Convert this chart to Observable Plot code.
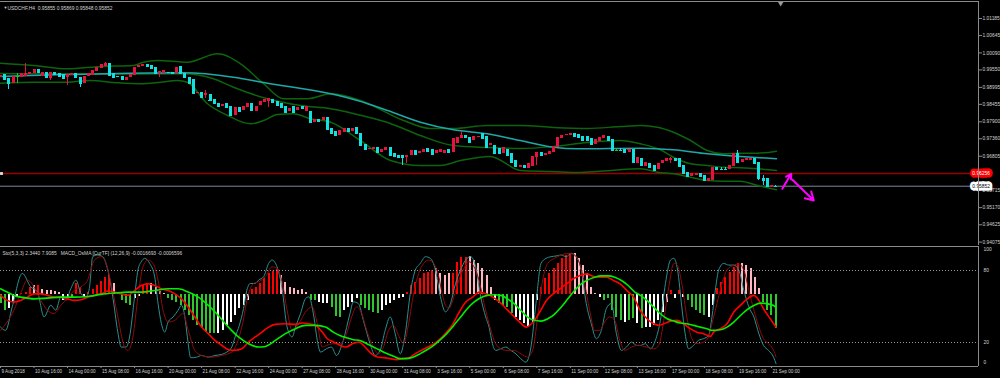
<!DOCTYPE html>
<html><head><meta charset="utf-8">
<script src="https://cdn.jsdelivr.net/npm/d3@7"></script>
<script src="https://cdn.jsdelivr.net/npm/@observablehq/plot@0.6"></script>
<style>
body{margin:0;background:#000;}
#wrap{position:relative;width:1000px;height:378px;background:#000;overflow:hidden;}
#wrap svg{position:absolute;left:0;}
</style></head><body>
<div id="wrap"></div>
<script>
// ---------- DATA ----------
const symbolTitle = "USDCHF,H4  0.95855 0.95869 0.95848 0.95852";
const indTitle = "Sto(5,3,3) 2.3440 7.9085   MACD_OsMA [CurTF] (12,26,9) -0.0016693 -0.0006596";
const openPrices = [
0.99318,0.99395,0.99268,0.99128,0.99340,0.99318,0.99341,0.99395,0.99427,0.99554,
0.99341,0.99458,0.99268,0.99477,0.99446,0.99395,0.99318,0.99372,0.99427,0.99318,
0.99128,0.99350,0.99372,0.99509,0.99586,0.99659,0.99745,0.99427,0.99341,0.99350,
0.99213,0.99299,0.99372,0.99617,0.99659,0.99722,0.99690,0.99636,0.99427,0.99427,
0.99477,0.99477,0.99446,0.99659,0.99446,0.99318,0.99236,0.98791,0.98841,0.98736,
0.98759,0.98600,0.98492,0.98387,0.98473,0.98387,0.98100,0.98364,0.98259,0.98364,
0.98492,0.98237,0.98418,0.98523,0.98555,0.98600,0.98545,0.98473,0.98387,0.98237,
0.98387,0.98259,0.98387,0.98237,0.98237,0.97887,0.97983,0.97941,0.98046,0.97697,
0.97592,0.97464,0.97560,0.97687,0.97601,0.97728,0.97538,0.97178,0.97010,0.97010,
0.97092,0.96933,0.96987,0.97073,0.96902,0.96828,0.96828,0.96755,0.96828,0.96987,
0.96902,0.96933,0.97042,0.97019,0.96883,0.96924,0.96902,0.97010,0.96933,0.97220,
0.97360,0.97455,0.97410,0.97305,0.97391,0.97519,0.97433,0.97146,0.97146,0.97042,
0.96902,0.97010,0.96883,0.96669,0.96456,0.96510,0.96415,0.96479,0.96774,0.96933,
0.96828,0.96860,0.96933,0.97092,0.97360,0.97464,0.97464,0.97538,0.97496,0.97433,
0.97433,0.97379,0.97178,0.97283,0.97360,0.97433,0.97328,0.96990,0.96980,0.97010,
0.96933,0.97010,0.96584,0.96724,0.96479,0.96584,0.96510,0.96374,0.96584,0.96647,
0.96669,0.96743,0.96724,0.96510,0.96278,0.96170,0.96192,0.96266,0.96202,0.96001,
0.96033,0.96456,0.96383,0.96380,0.96374,0.96479,0.96902,0.96615,0.96669,0.96669,
0.96743,0.96615,0.96107,0.96088,0.95820,0.95855];
const closePrices = [
0.99372,0.99236,0.99109,0.99341,0.99340,0.99427,0.99427,0.99468,0.99554,0.99477,
0.99458,0.99299,0.99477,0.99395,0.99341,0.99268,0.99395,0.99427,0.99299,0.99128,
0.99350,0.99427,0.99531,0.99617,0.99722,0.99745,0.99372,0.99318,0.99335,0.99236,
0.99318,0.99395,0.99636,0.99690,0.99722,0.99659,0.99586,0.99427,0.99509,0.99531,
0.99470,0.99427,0.99617,0.99446,0.99299,0.99109,0.98810,0.98841,0.98682,0.98791,
0.98577,0.98473,0.98387,0.98441,0.98364,0.98100,0.98345,0.98237,0.98387,0.98492,
0.98259,0.98387,0.98555,0.98600,0.98631,0.98523,0.98418,0.98364,0.98205,0.98333,
0.98205,0.98364,0.98314,0.98387,0.97887,0.97964,0.97919,0.98046,0.97646,0.97538,
0.97464,0.97623,0.97687,0.97601,0.97678,0.97519,0.97146,0.97010,0.97061,0.97092,
0.96933,0.97029,0.97073,0.96828,0.96797,0.96774,0.96755,0.96828,0.96987,0.96851,
0.96965,0.97010,0.96965,0.96860,0.96987,0.97010,0.96987,0.96933,0.97379,0.97410,
0.97464,0.97391,0.97251,0.97433,0.97433,0.97360,0.97092,0.97220,0.96902,0.96902,
0.97073,0.96828,0.96615,0.96479,0.96510,0.96456,0.96565,0.96797,0.96933,0.96828,
0.96902,0.96965,0.97115,0.97391,0.97464,0.97496,0.97538,0.97433,0.97391,0.97305,
0.97305,0.97178,0.97328,0.97410,0.97464,0.97305,0.96987,0.96990,0.96975,0.96933,
0.97029,0.96615,0.96755,0.96510,0.96615,0.96456,0.96351,0.96584,0.96669,0.96724,
0.96724,0.96669,0.96479,0.96247,0.96170,0.96266,0.96266,0.96160,0.96033,0.96107,
0.96437,0.96374,0.96380,0.96374,0.96510,0.96902,0.96615,0.96692,0.96724,0.96743,
0.96565,0.96088,0.96033,0.95842,0.95865,0.95852];
const wickIdx  = [2,4,6,12,16,19,25,38,49,64,96,97,110,128,147,148,160,172,173,176,181,182,185];
const wickHigh = [null,0.99446,0.99745,null,null,null,0.99795,null,0.98895,null,null,null,0.97601,null,0.97061,0.97042,0.96774,0.96437,0.96437,0.96987,null,0.96197,0.95869];
const wickLow  = [0.98918,0.99109,null,0.99213,0.99054,0.98999,null,0.99318,0.98631,0.98364,0.96510,0.96565,null,0.96510,0.96987,0.96965,0.96584,0.96374,0.96360,null,0.96033,0.95873,0.95848];

const bbUpper = [[0,0.99764],[7.9,0.99690],[16,0.99585],[23.9,0.99659],[31.7,0.99690],[34.1,0.99795],[37.5,0.99849],[44.6,0.99795],[51.8,1.00062],[57.3,0.99745],[62.8,0.99109],[67.5,0.98632],[73.3,0.98632],[78.8,0.98790],[85.9,0.98577],[96.2,0.97941],[102.6,0.97687],[108.1,0.97687],[116.2,0.97782],[124.1,0.97782],[132,0.97719],[140.1,0.97687],[148,0.97750],[152.7,0.97782],[156.8,0.97729],[160.6,0.97569],[164.7,0.97305],[168.7,0.96987],[172.6,0.96883],[176.6,0.96902],[180.7,0.96902],[185.2,0.96965]];
const bbMiddle = [[0,0.99436],[20,0.99420],[43.7,0.99427],[50.8,0.99268],[55.6,0.99000],[63.7,0.98632],[71.6,0.98418],[78.8,0.98314],[84.2,0.98164],[92.4,0.97878],[100.2,0.97464],[108.1,0.97146],[116.2,0.97083],[124.1,0.97051],[132,0.97115],[140.1,0.97242],[148,0.97305],[152.7,0.97200],[157.5,0.97010],[160.6,0.96774],[164.7,0.96565],[168.7,0.96510],[172.6,0.96456],[176.6,0.96437],[180.7,0.96405],[185.2,0.96351]];
const bbLower = [[0,0.99128],[7.9,0.99159],[16,0.99159],[21.5,0.99213],[27.9,0.99140],[33.4,0.99109],[38.2,0.99159],[42.2,0.99213],[44.6,0.99159],[49.4,0.98473],[54.2,0.98100],[59.7,0.97836],[62.8,0.97941],[66.1,0.98132],[69.9,0.98154],[74,0.97995],[78.8,0.97887],[85.9,0.97305],[93.1,0.96669],[100.2,0.96510],[105,0.96510],[109.8,0.96669],[116.9,0.96800],[124.1,0.96351],[131.3,0.96320],[138.4,0.96288],[145.6,0.96351],[152.7,0.96405],[156.8,0.96297],[160.6,0.96247],[164.7,0.96138],[168.7,0.96033],[172.6,0.96011],[176.6,0.96011],[180.7,0.95874],[185.2,0.95737]];
const maLine = [[0,0.99341],[43.7,0.99458],[55.6,0.99318],[63.7,0.99128],[78.8,0.98790],[85.2,0.98577],[92.4,0.98259],[100.2,0.97887],[108.1,0.97646],[116.2,0.97518],[124.1,0.97305],[132,0.97092],[137.7,0.97042],[152.7,0.97061],[160.6,0.97010],[168.7,0.96883],[176.6,0.96797],[185.2,0.96724]];

const redLevel = 0.96256;
const bidLevel = 0.95852;
const arrows = [{x1:186.6,y1:0.95769,x2:188.7,y2:0.96246},{x1:189.0,y1:0.96056,x2:194.1,y2:0.95397}];
const shiftMarkBar = 186.2;
const priceTicks = [1.01185,1.00645,1.00090,0.99550,0.98995,0.98455,0.97900,0.97360,0.96805,0.95715,0.95170,0.94625,0.94075];

const xTickBars = [0,8,16,24,32,40,48,56,64,72,80,88,96,104,112,120,128,136,144,152,160,168,176,184];
const xTickLabels = ["9 Aug 2018","10 Aug 16:00","14 Aug 00:00","15 Aug 08:00","16 Aug 16:00","20 Aug 00:00","21 Aug 08:00","22 Aug 16:00","24 Aug 00:00","27 Aug 08:00","28 Aug 16:00","30 Aug 00:00","31 Aug 08:00","3 Sep 16:00","5 Sep 00:00","6 Sep 08:00","7 Sep 16:00","11 Sep 00:00","12 Sep 08:00","13 Sep 16:00","17 Sep 00:00","18 Sep 08:00","19 Sep 16:00","21 Sep 00:00"];

const stochLevels = [80,20];
const stochMain = [[0,32.9],[1.2,30.1],[2.8,49.7],[5.2,77.6],[7.2,66.4],[8.8,62.2],[10.4,41.3],[12,51.1],[13.2,46.9],[14.4,58],[15.6,55.2],[16.8,65],[18,72],[19.2,60.8],[20.4,58],[21.2,65],[22,91.5],[23.2,92.9],[24.4,91.5],[25.6,80.4],[26.8,58],[28,28.7],[28.8,16.2],[30,16.2],[30.8,24.6],[32,58],[32.8,80.4],[33.6,87.3],[34.4,90.1],[35.6,85.9],[36.8,74.8],[37.6,52.5],[38.4,35.7],[39.2,28.7],[40,37.1],[41.2,41.3],[42.4,46.9],[43.2,51.1],[44,41.3],[44.6,24.6],[45.4,7.3],[46.8,7.8],[48,9.2],[49.6,7.8],[51.2,9.2],[52.8,10.1],[54,12],[55.2,16.2],[56,24.6],[57,34.3],[58,48.3],[58.8,63.6],[59.6,69.2],[60.8,69.2],[61.6,72],[62.8,74.8],[64,85.9],[64.8,88.7],[66,83.1],[67.2,65],[68.4,32.9],[69.6,24.6],[70.4,32.9],[71.6,44.1],[72.8,56.6],[73.6,58],[74.8,41.3],[75.6,21.8],[76.4,12],[77.8,14.8],[79,16.2],[80.2,9.2],[81.8,21.8],[83.4,44.1],[84.2,53.9],[85.4,52.5],[86.6,38.5],[88.2,19],[89.4,9.2],[90.6,13.4],[91.8,30.1],[93,41.3],[94.2,27.3],[95.4,10.6],[96.6,27.3],[97.8,60.8],[99,80.4],[100.2,85.9],[101.4,91.5],[102.6,90.1],[103.8,80.4],[105,58],[106.2,45.5],[107.4,52.5],[108.6,69.2],[109.8,80.4],[111,88.7],[112.2,91.5],[113.4,83.1],[114.6,58],[115.8,41.3],[116.6,32.9],[117.4,19],[118.2,13.4],[119.4,14.8],[120.6,16.2],[121.8,13.4],[123,10.6],[124.2,6.4],[125.4,3.6],[126.6,16.2],[127.8,52.5],[129,85.9],[130.2,90.1],[131.4,91.5],[132.6,92.1],[133.8,92.9],[135,91.5],[136.2,94.3],[137.4,91.5],[138.6,80.4],[139.8,52.5],[141,35.7],[142.2,23.2],[143.4,30.1],[144.6,48.3],[145.8,52.5],[147,27.3],[148.2,13.4],[149.4,16.2],[150.6,20.4],[151.8,17.6],[152.7,17.6],[153.9,19],[155.1,14.8],[156.3,21.8],[157.5,38.5],[158.7,69.2],[159.9,88.7],[160.7,90.1],[161.6,80.4],[162.6,49.7],[163.4,27.3],[164.2,14.8],[165.4,17.6],[166.6,21.8],[167.8,23.2],[169,25.9],[169.8,41.3],[170.6,63.6],[171.4,80.4],[172.6,85.9],[173.8,84.5],[175,84.5],[176.2,80.4],[177.4,63.6],[178.6,49.7],[179.8,41.3],[181,27.3],[182.1,17.6],[183.3,13.4],[184.5,7.8],[185.1,2.3]];
const stochSignal = [[0,30.1],[1.6,37.1],[3.2,46.9],[4.8,60.8],[6.4,72],[8,66.4],[9.6,55.2],[11.2,46.9],[12.8,44.1],[14.4,51.1],[16,56.6],[17.6,63.6],[19.2,66.4],[20.8,72],[22.4,88.7],[24,91.5],[25.2,85.9],[26.4,69.2],[28,41.3],[29.6,16.2],[30.4,13.4],[31.6,24.6],[32.8,58],[34,83.1],[35.2,88.7],[36.4,85.9],[37.6,72],[38.8,46.9],[40,37.1],[41.6,38.5],[43.6,44.1],[44.8,30.1],[46.4,13.4],[48,9.2],[50.4,7.8],[52.8,9.2],[55.2,12],[56.4,19],[57.6,32.9],[59.2,60.8],[60.4,69.2],[61.6,70.6],[63.2,74.8],[64.8,83.1],[66,81.7],[67.2,70.6],[68.4,46.9],[69.6,30.1],[71.2,35.7],[72.8,45.5],[74.4,49.7],[75.6,35.7],[76.8,16.2],[77.8,17.6],[79.4,19],[81,19],[82.6,27.3],[83.8,41.3],[85,49.7],[86.2,44.1],[87.4,30.1],[89,16.2],[90.2,10.6],[91.4,16.2],[92.6,30.1],[93.8,34.3],[95,25.9],[96.2,19],[97.4,35.7],[98.6,60.8],[99.8,77.6],[101,85.9],[102.2,88.7],[103.4,85.9],[104.6,74.8],[105.4,60.8],[106.2,51.1],[107,48.3],[108.2,58],[109.4,72],[110.6,81.7],[111.8,87.3],[113,83.1],[114.2,72],[115.4,52.5],[116.6,35.7],[117.8,21.8],[119.4,14.8],[121,13.4],[122.6,13.4],[124.2,10.6],[125.8,7.8],[127,13.4],[128.2,41.3],[129.4,72],[130.6,85.9],[132.2,90.1],[133.8,92.9],[135.4,94.3],[137,92.9],[138.2,85.9],[139.4,69.2],[140.6,46.9],[141.8,30.1],[143,30.1],[144.2,37.1],[145.4,41.3],[146.6,38.5],[147.8,21.8],[149,13.4],[150.6,16.2],[152.2,17.6],[154.3,16.2],[155.9,14.8],[157.1,17.6],[158.3,38.5],[159.5,66.4],[160.7,85.9],[161.5,84.5],[162.6,69.2],[163.8,41.3],[165,23.2],[166.2,19],[167.8,20.4],[169,24.6],[169.8,35.7],[171,52.5],[172.2,69.2],[173.4,80.4],[175,84.5],[176.2,85.4],[177.4,80.4],[178.6,63.6],[179.8,46.9],[181,32.9],[182.1,23.2],[183.3,19],[184.5,13.4],[185.1,7.9]];

const macdMain = [[0,-0.00003],[1.6,-0.00029],[3.2,-0.00038],[4.8,-0.00029],[6.4,-0.00012],[8,0.00005],[9.6,0.00005],[11.2,-0.00003],[12.8,-0.00012],[14.4,-0.00012],[16,-0.00021],[17.6,-0.00029],[19.2,-0.00026],[20.8,-0.00012],[22.4,-0.00003],[24,0.00005],[25.6,0.00019],[27.2,0.00014],[28.8,0.00005],[30.4,-0.00003],[32,0.00022],[33.6,0.00048],[35.2,0.00057],[36.8,0.00048],[38.4,0.00031],[40,0.00022],[41.6,0.00005],[43.2,-0.00021],[44.8,-0.00064],[46.4,-0.00115],[48,-0.00167],[49.6,-0.00201],[51.2,-0.00236],[52.8,-0.00261],[54.4,-0.00284],[56,-0.00287],[57.6,-0.00279],[59.2,-0.00244],[60.8,-0.00218],[62.4,-0.00193],[64,-0.00167],[65.6,-0.00153],[68,-0.00150],[70.4,-0.00153],[72,-0.00146],[73.6,-0.00150],[75.2,-0.00158],[76.8,-0.00193],[78,-0.00227],[79.5,-0.00244],[81,-0.00261],[82.5,-0.00270],[84,-0.00253],[85.5,-0.00244],[87,-0.00270],[88.5,-0.00304],[90,-0.00322],[91.5,-0.00325],[93,-0.00330],[94.5,-0.00335],[96,-0.00330],[97.5,-0.00325],[99,-0.00304],[100.5,-0.00287],[102,-0.00270],[103.5,-0.00253],[105,-0.00227],[106.5,-0.00193],[108,-0.00150],[109.5,-0.00089],[111,-0.00038],[112.7,-0.00012],[114.3,0.00014],[115.9,0.00005],[117.5,-0.00012],[119.1,-0.00038],[120.7,-0.00072],[122.3,-0.00107],[123.9,-0.00141],[125.5,-0.00167],[127.1,-0.00141],[128.7,-0.00089],[130.3,-0.00029],[131.9,0.00005],[133.5,0.00031],[135.1,0.00057],[136.7,0.00083],[138.3,0.00100],[139.9,0.00108],[141.5,0.00095],[143.1,0.00091],[144.7,0.00091],[146.3,0.00074],[147.9,0.00057],[149.5,0.00022],[151.1,-0.00012],[152.7,-0.00081],[154.3,-0.00124],[155.9,-0.00150],[157.1,-0.00158],[158.3,-0.00150],[159.9,-0.00136],[161.5,-0.00132],[163,-0.00150],[164.6,-0.00175],[166.2,-0.00193],[167.8,-0.00201],[169.4,-0.00215],[170.2,-0.00193],[171.8,-0.00175],[173.4,-0.00150],[175,-0.00089],[176.6,-0.00055],[178.2,-0.00021],[179.8,-0.00003],[181,-0.00029],[182.1,-0.00072],[183.7,-0.00124],[185.1,-0.00167]];
const macdSignal = [[0,0.00031],[1.6,0.00014],[3.2,-0.00003],[4.8,-0.00012],[6.4,-0.00017],[8,-0.00021],[11.2,-0.00017],[14.4,-0.00012],[17.6,-0.00012],[20.8,-0.00009],[24,0.00002],[27.2,0.00009],[30.4,0.00014],[33.6,0.00014],[36.8,0.00022],[40,0.00031],[42.4,0.00031],[44.8,0.00014],[47.2,-0.00012],[49.6,-0.00055],[52,-0.00107],[54.4,-0.00167],[56.8,-0.00218],[59.2,-0.00253],[61.6,-0.00270],[63.2,-0.00267],[65.6,-0.00236],[68,-0.00201],[70.4,-0.00175],[72.8,-0.00158],[75.2,-0.00158],[77.6,-0.00167],[79.4,-0.00193],[81,-0.00210],[82.6,-0.00222],[84.2,-0.00232],[85.8,-0.00236],[87.4,-0.00253],[89,-0.00270],[90.6,-0.00287],[92.2,-0.00304],[93.8,-0.00318],[95.4,-0.00330],[97,-0.00330],[98.6,-0.00322],[100.2,-0.00304],[101.8,-0.00284],[103.4,-0.00261],[105,-0.00232],[106.6,-0.00198],[108.2,-0.00158],[109.8,-0.00115],[111.4,-0.00072],[113,-0.00038],[114.6,-0.00015],[116.2,-0.00003],[117.8,0],[119.4,-0.00003],[121,-0.00021],[122.6,-0.00046],[124.2,-0.00081],[125.8,-0.00115],[127.4,-0.00132],[129,-0.00136],[130.6,-0.00124],[132.2,-0.00101],[133.8,-0.00064],[135.4,-0.00021],[137,0.00022],[138.6,0.00057],[140.2,0.00077],[141.8,0.00091],[143.4,0.00098],[145,0.00098],[146.6,0.00091],[148.2,0.00074],[149.8,0.00048],[151.4,0.00014],[152.7,-0.00003],[154.3,-0.00029],[155.9,-0.00064],[157.5,-0.00098],[159.1,-0.00124],[160.7,-0.00136],[162.2,-0.00146],[163.8,-0.00150],[165.4,-0.00158],[167,-0.00167],[168.6,-0.00175],[169.8,-0.00184],[171.8,-0.00181],[173.4,-0.00167],[175,-0.00141],[176.6,-0.00107],[178.2,-0.00077],[179.8,-0.00055],[181.3,-0.00043],[182.9,-0.00046],[184.5,-0.00055],[185.1,-0.00066]];

const histVals = [
-0.00046,-0.00080,-0.00070,-0.00040,-0.00010,0.00005,0.00012,0.00036,0.00048,0.00048,
0.00026,0.00022,0.00022,0.00019,0.00014,-0.00029,-0.00021,-0.00012,0.00057,0.00040,
-0.00012,0.00014,0.00026,0.00048,0.00071,0.00091,0.00100,0.00060,0.00014,-0.00029,
-0.00046,-0.00055,-0.00021,-0.00009,0.00048,0.00060,0.00057,0.00040,0.00019,0.00005,
-0.00021,-0.00029,-0.00038,-0.00055,-0.00081,-0.00107,-0.00132,-0.00158,-0.00175,-0.00193,
-0.00201,-0.00201,-0.00201,-0.00184,-0.00158,-0.00141,-0.00107,-0.00072,-0.00055,-0.00029,
0.00026,0.00040,0.00057,0.00083,0.00108,0.00122,0.00129,0.00100,0.00065,0.00040,
0.00031,0.00022,0.00026,0.00014,-0.00029,-0.00029,-0.00038,-0.00046,-0.00043,-0.00064,
-0.00112,-0.00115,-0.00081,-0.00064,-0.00038,-0.00021,-0.00055,-0.00072,-0.00081,-0.00089,
-0.00095,-0.00081,-0.00055,-0.00046,-0.00029,-0.00021,-0.00012,0.00014,0.00048,0.00065,
0.00083,0.00108,0.00117,0.00126,0.00134,0.00108,0.00100,0.00108,0.00108,0.00169,
0.00194,0.00194,0.00198,0.00177,0.00160,0.00134,0.00100,0.00040,-0.00029,-0.00046,
-0.00055,-0.00064,-0.00098,-0.00115,-0.00132,-0.00150,-0.00167,-0.00141,-0.00029,0.00040,
0.00083,0.00108,0.00134,0.00160,0.00186,0.00203,0.00215,0.00212,0.00186,0.00151,
0.00108,0.00040,0.00009,-0.00012,-0.00029,-0.00021,-0.00081,-0.00115,-0.00132,-0.00141,
-0.00132,-0.00124,-0.00150,-0.00175,-0.00167,-0.00170,-0.00158,-0.00132,-0.00089,-0.00038,
0.00022,-0.00021,0.00022,-0.00012,-0.00029,-0.00064,-0.00081,-0.00098,-0.00107,-0.00115,
-0.00055,0.00031,0.00065,0.00091,0.00117,0.00143,0.00163,0.00163,0.00151,0.00134,
0.00091,0.00031,-0.00038,-0.00081,-0.00107,-0.00175];
const histCodes = ["GGWWWRRRPR","PPPPPWWGRR","WRRRRRRPPG","GGWWRRPPPP","GGGGGGGGGG","GGWWWWWWWW","RRRRRRRPPP","PPPPGGWWWG","GGWWWWGGGG","GWWWWWWRRR","RRRRPPPPRR","RRPPPPPPWG","GGGWWWWWWR","RRRRRRRPPP","PPPWGGGGGW","GGWGWWWWWW","RWRWGGGGGW","WRRRRRRPPP","PPGGGG"].join("");

// ---------- BUILD ----------
const PX_PER_BAR = 4.19;
const PLOT_RIGHT = 978;
const xMax = PLOT_RIGHT / PX_PER_BAR;
const font = "Liberation Sans, Arial, sans-serif";
const txt = "#d4d4d4";
const border = "#8a8a8a";
const upCol = "#e5143f", downCol = "#14e0e0", flatCol = "#22c022";
const FS = 4.9;
const FSX = 4.6;

const bars = openPrices.map((o, i) => {
  const c = closePrices[i];
  return {i, o, c, hi: Math.max(o, c), lo: Math.min(o, c), col: c > o ? upCol : c < o ? downCol : flatCol};
});
wickIdx.forEach((k, j) => {
  if (wickHigh[j] != null) bars[k].hi = Math.max(bars[k].hi, wickHigh[j]);
  if (wickLow[j] != null) bars[k].lo = Math.min(bars[k].lo, wickLow[j]);
});
const hist = histVals.map((v, i) => ({i, v, code: histCodes[i]}));
const histColor = {R: "#ff0000", P: "#ffb6c1", G: "#2ec82e", W: "#ffffff"};
const xTicks = xTickBars.map((b, k) => ({b, label: xTickLabels[k]}));

const baseStyle = {background: "transparent", color: txt, fontFamily: font, fontSize: FS + "px", overflow: "visible"};
const wrap = document.getElementById("wrap");
function place(svg, top) { svg.style.top = top + "px"; wrap.appendChild(svg); }

// main price panel
const main = Plot.plot({
  width: 1000, height: 245, marginTop: 1, marginBottom: 0, marginLeft: 0, marginRight: 22,
  style: baseStyle,
  x: {domain: [0, xMax], axis: null},
  y: {domain: [0.939664, 1.017256], axis: null},
  marks: [
    Plot.ruleY([redLevel], {stroke: "#9a0000", strokeWidth: 1.5}),
    Plot.ruleY([bidLevel], {stroke: "#7a8898", strokeWidth: 1}),
    Plot.dot([redLevel], {y: d => d, frameAnchor: "left", symbol: "square", r: 1.6, fill: "#e0e0e0", dx: 1}),
    Plot.dot([redLevel], {y: d => d, frameAnchor: "right", symbol: "square", r: 1.6, fill: "#e0e0e0", dx: -1}),
    Plot.line(bbUpper, {stroke: "#0c640c", curve: "monotone-x"}),
    Plot.line(bbLower, {stroke: "#0c640c", curve: "monotone-x"}),
    Plot.line(bbMiddle, {stroke: "#0c640c", curve: "monotone-x"}),
    Plot.line(maLine, {stroke: "#1fa8a8", curve: "monotone-x"}),
    Plot.ruleX(bars, {x: "i", y1: "lo", y2: "hi", stroke: d => d.col, strokeWidth: 1, shapeRendering: "crispEdges"}),
    Plot.ruleX(bars, {x: "i", y1: "o", y2: "c", stroke: d => d.col, strokeWidth: 3, shapeRendering: "crispEdges"}),
    Plot.link(bars, {x1: d => d.i - 0.36, x2: d => d.i + 0.36, y1: "c", y2: "c", stroke: d => d.col, strokeWidth: 1, shapeRendering: "crispEdges"}),
    Plot.arrow(arrows, {x1: "x1", y1: "y1", x2: "x2", y2: "y2", stroke: "#ff00ff", strokeWidth: 2, headLength: 7}),
    Plot.axisY(priceTicks, {anchor: "right", tickFormat: d3.format(".5f"), tickSize: 3, tickPadding: 1, stroke: border, label: null, fontSize: FS}),
    Plot.text([redLevel], {y: d => d, frameAnchor: "right", dx: 11.5, text: d => d3.format(".5f")(d), fill: "#ffffff", stroke: "#ff0000", strokeWidth: 5, strokeLinejoin: "miter", fontSize: FS}),
    Plot.text([bidLevel], {y: d => d, frameAnchor: "right", dx: 11.5, text: d => d3.format(".5f")(d), fill: "#000000", stroke: "#ffffff", strokeWidth: 5, strokeLinejoin: "miter", fontSize: FS}),
    Plot.ruleX([xMax], {stroke: border}),
    Plot.ruleY([1.017256], {stroke: border}),
    Plot.dot([shiftMarkBar], {x: d => d, frameAnchor: "top", symbol: "triangle", rotate: 180, r: 2, fill: "#9a9a9a", dy: 2}),
    Plot.text(["\u25BC"], {frameAnchor: "top-left", dx: 3, dy: 5, fontSize: 4, fill: txt}),
    Plot.text([symbolTitle], {frameAnchor: "top-left", dx: 7, dy: 5, textAnchor: "start", fill: txt, fontSize: FS})
  ]
});
place(main, 0);

const indOpts = {width: 1000, height: 133, marginTop: 1, marginBottom: 12, marginLeft: 0, marginRight: 22, style: baseStyle};
const macdDomain = [-0.003707, 0.002497];

const histPlot = Plot.plot({...indOpts,
  x: {domain: [0, xMax], axis: null},
  y: {domain: macdDomain, axis: null},
  marks: [
    Plot.ruleX(hist, {x: "i", y1: 0, y2: "v", stroke: d => histColor[d.code], strokeWidth: 2, shapeRendering: "crispEdges"})
  ]
});
place(histPlot, 245);

const stochPlot = Plot.plot({...indOpts,
  x: {domain: [0, xMax], axis: null},
  y: {domain: [0, 100], axis: null},
  marks: [
    Plot.ruleY(stochLevels, {stroke: "#9a9a9a", strokeDasharray: "1,2"}),
    Plot.line(stochMain, {stroke: "#2b8f8f", strokeWidth: 1, curve: "monotone-x"}),
    Plot.line(stochSignal, {stroke: "#8f0a0a", strokeWidth: 1, curve: "monotone-x"}),
    Plot.axisY(stochLevels, {anchor: "right", tickSize: 0, tickPadding: 5, label: null, fontSize: FS}),
    Plot.text([100], {y: d => d, frameAnchor: "right", dx: 5, dy: 3, textAnchor: "start", text: d => String(d), fill: txt, fontSize: FS}),
    Plot.text([0], {y: d => d, frameAnchor: "right", dx: 5, dy: -4, textAnchor: "start", text: d => String(d), fill: txt, fontSize: FS}),
    Plot.axisX(xTickBars, {anchor: "bottom", tickSize: 2, tickFormat: () => "", stroke: border, label: null}),
    Plot.text(xTicks, {x: "b", text: "label", frameAnchor: "bottom", dy: 6, dx: 1, textAnchor: "start", fill: txt, fontSize: FSX}),
    Plot.ruleY([0], {stroke: border}),
    Plot.ruleY([100], {stroke: border}),
    Plot.ruleX([xMax], {stroke: border})
  ]
});
place(stochPlot, 245);

const macdPlot = Plot.plot({...indOpts,
  x: {domain: [0, xMax], axis: null},
  y: {domain: macdDomain, axis: null},
  marks: [
    Plot.line(macdMain, {stroke: "#ff0000", strokeWidth: 1.6, curve: "monotone-x"}),
    Plot.line(macdSignal, {stroke: "#00ee00", strokeWidth: 1.6, curve: "monotone-x"}),
    Plot.text([indTitle], {frameAnchor: "top-left", dx: 2, dy: 5, textAnchor: "start", fill: txt, fontSize: FS})
  ]
});
place(macdPlot, 245);
</script></body></html>
